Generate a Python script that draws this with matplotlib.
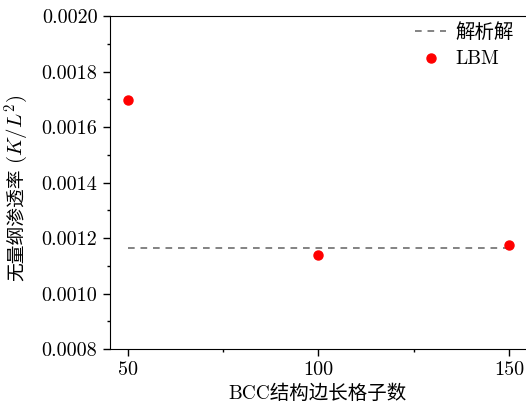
import numpy as np
import matplotlib
matplotlib.use("Agg")
import matplotlib.pyplot as plt
from matplotlib.ticker import MultipleLocator, FormatStrFormatter

plt.rcParams['font.family'] = ['cmr10', 'Noto Sans CJK SC', 'DejaVu Serif']
plt.rcParams['mathtext.fontset'] = 'cm'
plt.rcParams['axes.unicode_minus'] = False

# data
lattice = [50, 100, 150]
lbm = [0.001697, 0.001139, 0.001175]
analytic_x = [50, 150]
analytic = [0.001166, 0.001166]

fig = plt.figure(figsize=(5.26, 4.05), dpi=100)
ax = fig.add_axes([0.209, 0.138, 0.791, 0.822])

ax.plot(analytic_x, analytic, linestyle=(0, (4, 3.5)), color="#6e6e6e", lw=1.2, label="解析解")
ax.plot(lattice, lbm, linestyle="none", marker="o", ms=6.5, color="red", label="LBM")

ax.set_xlim(45.3, 154.5)
ax.set_ylim(0.0008, 0.0020)
ax.xaxis.set_major_locator(MultipleLocator(50))
ax.xaxis.set_minor_locator(MultipleLocator(25))
ax.yaxis.set_major_locator(MultipleLocator(0.0002))
ax.yaxis.set_minor_locator(MultipleLocator(0.0001))
ax.yaxis.set_major_formatter(FormatStrFormatter("%.4f"))
ax.tick_params(which="both", direction="out", labelsize=14.5, width=1)
ax.tick_params(which="major", length=5)
ax.tick_params(which="minor", length=2.5)
ax.tick_params(axis="y", pad=4)
ax.spines["right"].set_visible(False)

ax.set_xlabel("BCC结构边长格子数", fontsize=14, labelpad=4)

# y label: chinese part + math part, stacked
t1 = fig.text(0.032, (405 - 281) / 405, "无量纲渗透率", rotation=90, fontsize=13.5,
              ha="center", va="bottom")
fig.canvas.draw()
bb = t1.get_window_extent()
fig.text(0.032, (bb.y1 + 5) / 405, "($K/L^2$)", rotation=90, fontsize=15,
         ha="center", va="bottom")

ax.legend(loc="upper right", bbox_to_anchor=(1.0, 1.015), frameon=False, fontsize=14,
          handlelength=1.6, handletextpad=0.5, borderaxespad=0.2, labelspacing=0.45)

plt.savefig("out.png")
